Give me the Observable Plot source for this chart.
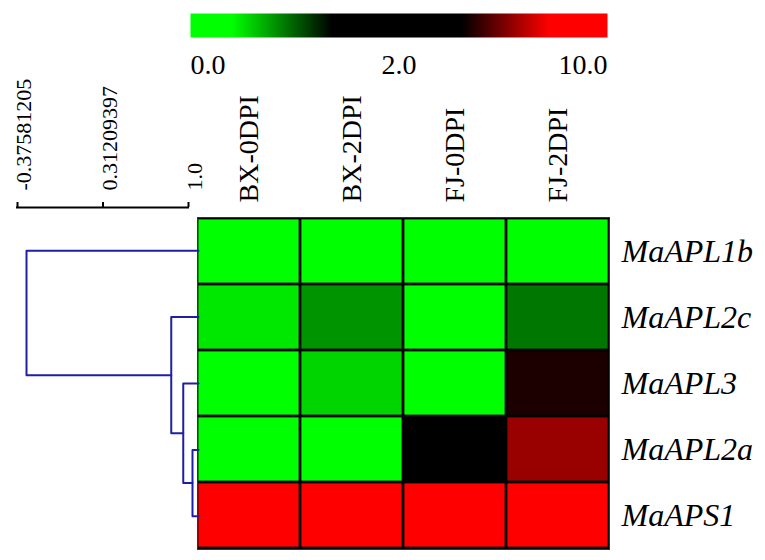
<!DOCTYPE html>
<html><head><meta charset="utf-8">
<script src="https://cdn.jsdelivr.net/npm/d3@7"></script>
<script src="https://cdn.jsdelivr.net/npm/@observablehq/plot@0.6"></script>
<style>
body{margin:0;background:#fff;}
#chart{position:relative;width:765px;height:560px;overflow:hidden;background:#fff;}
#chart svg{position:absolute;left:0;top:0;}
</style></head><body><div id="chart"></div>
<script>
// ---- data ----
const genes = ["MaAPL1b","MaAPL2c","MaAPL3","MaAPL2a","MaAPS1"];
const samples = ["BX-0DPI","BX-2DPI","FJ-0DPI","FJ-2DPI"];
const BX0 = [0.2, 0.49, 0.2, 0.2, 9.0];
const BX2 = [0.2, 0.80, 0.56, 0.2, 9.0];
const FJ0 = [0.2, 0.2, 0.2, 3.0, 9.0];
const FJ2 = [0.2, 0.91, 4.77, 6.42, 9.0];

const legendTicks = [0, 2, 10];
const legendLabels = ["0.0", "2.0", "10.0"];
const legendTickPos = [0, 0.5, 1];
const legendStopPos = [0, 0.1, 0.34, 0.65, 0.86, 1];
const legendStopColors = ["#00ff00","#00ff00","#000000","#000000","#ff0000","#ff0000"];

// dendrogram (heights on the correlation scale)
const mergeIds = ["A","B","C","D"];
const mergeLeft = ["MaAPL2a","MaAPL3","MaAPL2c","MaAPL1b"];
const mergeRight = ["MaAPS1","A","B","C"];
const mergeHeight = [0.952, 0.878, 0.782, -0.37581205];
const leafHeight = 1.0;
const treeTicks = [-0.37581205, 0.31209397, 1.0];
const treeTickLabels = ["-0.37581205", "0.31209397", "1.0"];

// ---- derived ----
const FONT = "Liberation Serif, Times New Roman, serif";
const series = [BX0, BX2, FJ0, FJ2];
const cells = genes.flatMap((g, i) => samples.map((s, j) => ({gene: g, sample: s, value: series[j][i]})));
const legendPos = d3.scaleLinear().domain(legendTicks).range(legendTickPos);
const colorOpts = {type: "linear", domain: legendStopPos.map(t => legendPos.invert(t)), range: legendStopColors, interpolate: "rgb"};

const nodes = new Map(genes.map((g, i) => [g, {y: i, h: leafHeight}]));
const treePts = [];
mergeIds.forEach((id, k) => {
  const a = nodes.get(mergeLeft[k]), b = nodes.get(mergeRight[k]), h = mergeHeight[k];
  treePts.push({node: id, h: a.h, y: a.y}, {node: id, h: h, y: a.y}, {node: id, h: h, y: b.y}, {node: id, h: b.h, y: b.y});
  nodes.set(id, {y: (a.y + b.y) / 2, h});
});

const chart = document.getElementById("chart");
const tr = {background: "transparent", overflow: "visible"};

// heatmap
const heat = Plot.plot({
  width: 765, height: 560, marginLeft: 197, marginRight: 156, marginTop: 217, marginBottom: 11,
  style: tr,
  x: {type: "band", domain: samples, padding: 0, axis: null},
  y: {type: "band", domain: genes, padding: 0, axis: null},
  color: colorOpts,
  marks: [
    Plot.frame({fill: "black", stroke: "#333", strokeWidth: 1}),
    Plot.cell(cells, {x: "sample", y: "gene", fill: "value", inset: 1.4}),
    Plot.text(genes, {y: d => d, frameAnchor: "right", textAnchor: "start", dx: 12, fontSize: 32, fontStyle: "italic", fontFamily: FONT, fill: "black"}),
    Plot.text(samples, {x: d => d, frameAnchor: "top", rotate: -90, textAnchor: "start", lineAnchor: "middle", dy: -15, fontSize: 28, fontFamily: FONT, fill: "black"})
  ]
});
chart.appendChild(heat);

// dendrogram
const tree = Plot.plot({
  width: 765, height: 560, marginLeft: 26, marginRight: 567, marginTop: 217, marginBottom: 11,
  style: tr,
  x: {domain: [treeTicks[0], treeTicks[2]], axis: null},
  y: {domain: [-0.5, genes.length - 0.5], reverse: true, axis: null},
  marks: [
    Plot.line(treePts, {x: "h", y: "y", z: "node", stroke: "#1f1fa6", strokeWidth: 2})
  ]
});
chart.appendChild(tree);

// tree scale axis
const axis = Plot.plot({
  width: 765, height: 215, marginLeft: 17, marginRight: 577, marginTop: 202, marginBottom: 8,
  style: tr,
  x: {domain: [treeTicks[0], treeTicks[2]], axis: null},
  y: {domain: [0, 1], axis: null},
  marks: [
    Plot.ruleY([0], {x1: () => treeTicks[0], x2: () => treeTicks[2], stroke: "black", strokeWidth: 2, strokeLinecap: "square"}),
    Plot.ruleX(treeTicks, {x: d => d, y1: () => 0, y2: () => 1, stroke: "black", strokeWidth: 2}),
    Plot.text(treeTicks, {x: d => d, y: () => 1, text: (d, i) => treeTickLabels[i], rotate: -90, textAnchor: "start", lineAnchor: "top", dy: -12, dx: -2, fontSize: 22, fontFamily: FONT, fill: "black"})
  ]
});
chart.appendChild(axis);

// color bar
const anchors = ["start", "middle", "end"];
const cb = Plot.plot({
  width: 765, height: 85, marginLeft: 190, marginRight: 158, marginTop: 13, marginBottom: 48,
  style: tr,
  x: {domain: [0, 1], axis: null},
  marks: [
    Plot.frame({fill: "url(#cbgrad)", stroke: "none"}),
    ...legendTicks.map((v, i) => Plot.text([v], {x: d => legendPos(d), text: () => legendLabels[i], frameAnchor: "bottom", lineAnchor: "top", dy: 17, textAnchor: anchors[i], fontSize: 28, fontFamily: FONT, fill: "black"}))
  ]
});
const grad = d3.select(cb).insert("defs", ":first-child").append("linearGradient").attr("id", "cbgrad").attr("x1", "0").attr("x2", "1").attr("y1", "0").attr("y2", "0");
legendStopPos.forEach((t, i) => grad.append("stop").attr("offset", t).attr("stop-color", legendStopColors[i]));
chart.appendChild(cb);
</script></body></html>
